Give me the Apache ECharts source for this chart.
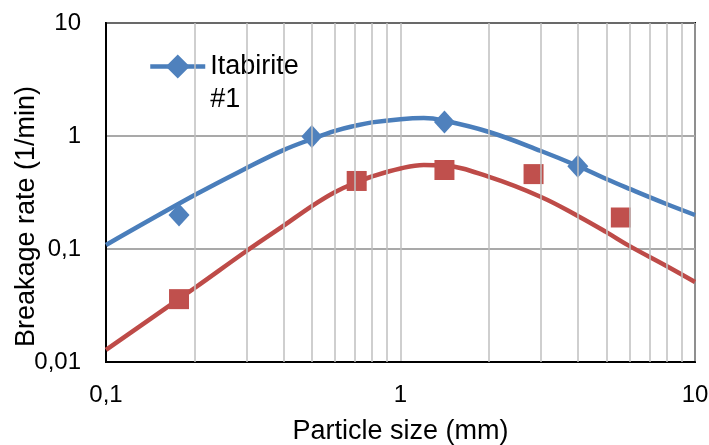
<!DOCTYPE html>
<html>
<head>
<meta charset="utf-8">
<script src="https://cdn.jsdelivr.net/npm/echarts@6/dist/echarts.min.js"></script>
<style>
  html, body { margin: 0; padding: 0; background: #fff; }
  #chart { width: 709px; height: 445px; }
</style>
</head>
<body>
<div id="chart"></div>
<script>
// model curves (particle size mm, rate 1/min)
var curveX = [0.1, 0.2, 0.3, 0.4, 0.5, 0.6, 0.7, 0.8, 1.0, 1.2, 1.4, 2, 3, 4, 5, 6, 8, 10]
var blueCurve = [0.1085, 0.30, 0.52, 0.75, 0.94, 1.11, 1.23, 1.32, 1.41, 1.44, 1.37, 1.085, 0.737, 0.543, 0.416, 0.34, 0.25, 0.20]
var redCurve = [0.0128, 0.0452, 0.096, 0.16, 0.24, 0.32, 0.384, 0.438, 0.516, 0.554, 0.548, 0.434, 0.2885, 0.196, 0.141, 0.106, 0.0707, 0.051]

// measured points
var blueX = [0.177, 0.5, 1.41, 4]
var blueY = [0.2, 0.99, 1.33, 0.54]
var redX = [0.177, 0.71, 1.41, 2.83, 5.6]
var redY = [0.036, 0.40, 0.50, 0.46, 0.19]

// minor vertical grid positions on the log x axis
var xMinor = [0.2, 0.3, 0.4, 0.5, 0.6, 0.7, 0.8, 0.9, 2, 3, 4, 5, 6, 7, 8, 9]

var font = '"Liberation Sans", Arial, sans-serif'

function pairs(xs, ys) {
  return xs.map(function (x, i) { return [x, ys[i]] })
}

function fmt(v) {
  return String(+Number(v).toPrecision(6)).replace('.', ',')
}

var chart = echarts.init(document.getElementById('chart'))

chart.setOption({
  animation: false,
  backgroundColor: '#fff',
  textStyle: { fontFamily: font },
  grid: {
    left: 106,
    right: 14,
    top: 23,
    bottom: 83,
    outerBoundsMode: 'none',
    containLabel: false,
    show: true,
    borderColor: '#000',
    borderWidth: 2,
    backgroundColor: 'transparent'
  },
  legend: {
    data: ['Itabirite #1'],
    left: 148,
    top: 17,
    padding: 0,
    itemWidth: 55,
    itemHeight: 30,
    lineStyle: { width: 4.5 },
    // blank first line keeps "Itabirite" level with the icon
    formatter: function () { return '\nItabirite\n#1' },
    textStyle: {
      fontFamily: font,
      fontSize: 27,
      color: '#000',
      lineHeight: 33
    }
  },
  xAxis: {
    type: 'log',
    logBase: 10,
    min: 0.1,
    max: 10,
    name: 'Particle size (mm)',
    nameLocation: 'middle',
    nameGap: 56,
    nameMoveOverlap: false,
    nameTextStyle: { fontFamily: font, fontSize: 27, color: '#000' },
    axisLine: { show: true, lineStyle: { color: '#000', width: 2 } },
    axisTick: { show: false },
    axisLabel: { margin: 21, fontSize: 24, color: '#000', fontFamily: font, formatter: fmt },
    splitLine: { show: true, lineStyle: { color: '#BFBFBF', width: 1.5 } }
  },
  yAxis: {
    type: 'log',
    logBase: 10,
    min: 0.01,
    max: 10,
    name: 'Breakage rate (1/min)',
    nameLocation: 'middle',
    nameGap: 66,
    nameMoveOverlap: false,
    nameTextStyle: { fontFamily: font, fontSize: 27, color: '#000', padding: [0, 48, 0, 0] },
    axisLine: { show: true, lineStyle: { color: '#000', width: 2 } },
    axisTick: { show: false },
    axisLabel: { margin: 25, fontSize: 24, color: '#000', fontFamily: font, formatter: fmt },
    splitLine: { show: true, lineStyle: { color: '#8C8C8C', width: 1.5 } }
  },
  series: [
    {
      name: 'minor grid',
      type: 'line',
      data: [],
      z: 1,
      silent: true,
      markLine: {
        silent: true,
        symbol: 'none',
        label: { show: false },
        lineStyle: { color: '#BFBFBF', width: 1.5, type: 'solid' },
        data: xMinor.map(function (v) { return { xAxis: v } })
      }
    },
    {
      name: 'Itabirite #1',
      type: 'line',
      smooth: 0.4,
      symbol: 'diamond',
      showSymbol: false,
      z: 3,
      data: pairs(curveX, blueCurve),
      lineStyle: { color: '#4A7EBB', width: 4.5 },
      itemStyle: { color: '#4F81BD' }
    },
    {
      name: 'red model',
      type: 'line',
      smooth: 0.4,
      symbol: 'none',
      z: 3,
      data: pairs(curveX, redCurve),
      lineStyle: { color: '#BE4B48', width: 4.5 },
      itemStyle: { color: '#C0504D' }
    },
    {
      name: 'blue data',
      type: 'scatter',
      symbol: 'diamond',
      symbolSize: [21, 23],
      z: 4,
      data: pairs(blueX, blueY),
      itemStyle: { color: '#4F81BD', opacity: 1 }
    },
    {
      name: 'red data',
      type: 'scatter',
      symbol: 'rect',
      symbolSize: 20,
      z: 4,
      data: pairs(redX, redY),
      itemStyle: { color: '#C0504D', opacity: 1 }
    }
  ]
})
</script>
</body>
</html>
